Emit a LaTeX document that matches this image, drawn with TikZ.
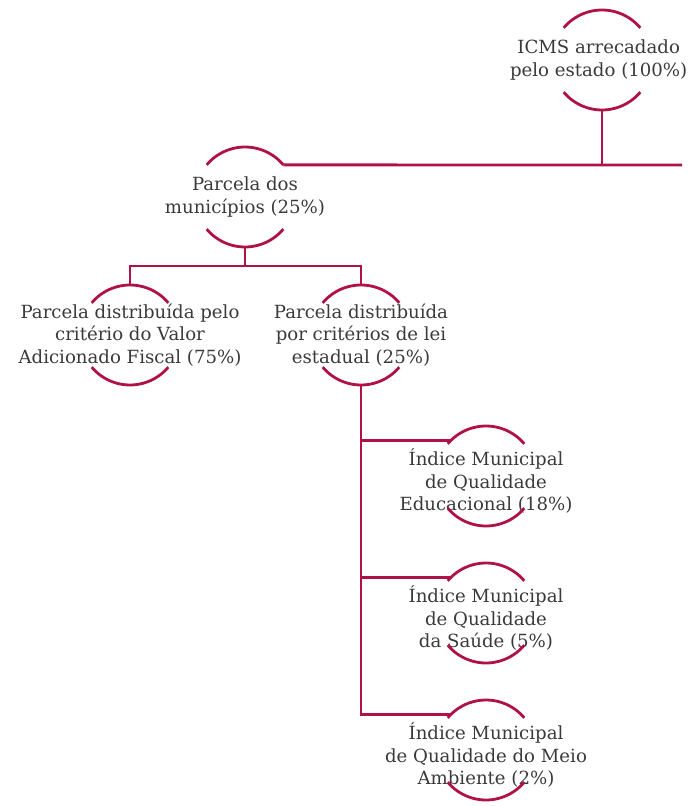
\documentclass[tikz,border=0pt]{standalone}
\usepackage{fontspec}
\setmainfont{DejaVu Serif}
\definecolor{vinho}{RGB}{176,18,72}
\definecolor{cinza}{RGB}{58,58,58}
\begin{document}
\begin{tikzpicture}[x=0.75pt, y=0.75pt,
  bolha/.style={circle, minimum size=75pt, inner sep=0pt, outer sep=0pt},
  texto/.style={align=center, text=cinza, inner sep=0pt, font=\fontsize{13.6}{16.9}\selectfont},
  ligacao/.style={draw=vinho, line width=2.1pt}]
  \useasboundingbox (0,0) rectangle (689,-806);
  % nos
  \node[bolha, label={[texto, name=icms-t, xshift=-2.5]center:{ICMS arrecadado\\pelo estado (100\%)}}] (icms) at (602,-60) {};
  \node[bolha, label={[texto, name=mun-t]center:{Parcela dos\\municípios (25\%)}}] (mun) at (245,-197) {};
  \node[bolha, label={[texto, name=pvaf-t]center:{Parcela distribuída pelo\\critério do Valor\\Adicionado Fiscal (75\%)}}] (pvaf) at (130,-335) {};
  \node[bolha, label={[texto, name=plei-t]center:{Parcela distribuída\\por critérios de lei\\estadual (25\%)}}] (plei) at (361,-335) {};
  \node[bolha, label={[texto, name=ime-t, yshift=-4]center:{Índice Municipal\\de Qualidade\\Educacional (18\%)}}] (ime) at (486,-476) {};
  \node[bolha, label={[texto, name=ims-t, yshift=-4]center:{Índice Municipal\\de Qualidade\\da Saúde (5\%)}}] (ims) at (486,-613) {};
  \node[bolha, label={[texto, name=ima-t, yshift=-4]center:{Índice Municipal\\de Qualidade do Meio\\Ambiente (2\%)}}] (ima) at (486,-750) {};
  \coordinate (fim) at (682,-165);
  % arcos
  \foreach \n in {icms,mun,pvaf,plei,ime,ims,ima} {
    \draw[ligacao] (\n.40) arc[start angle=40, end angle=140, radius=37.5pt];
    \draw[ligacao] (\n.220) arc[start angle=220, end angle=320, radius=37.5pt];
  }
  % ligacoes
  \draw[ligacao] (mun.40) -- (fim);
  \draw[ligacao] (icms.south) -- (icms.south |- fim);
  \draw[ligacao] (mun.south) -- ++(0,-19) coordinate (meio);
  \draw[ligacao] (pvaf.north) |- (meio) -| (plei.north);
  \draw[ligacao] (plei.south) |- (ima.135);
  \draw[ligacao] (plei.south |- ime.135) -- (ime.135);
  \draw[ligacao] (plei.south |- ims.135) -- (ims.135);
\end{tikzpicture}
\end{document}
